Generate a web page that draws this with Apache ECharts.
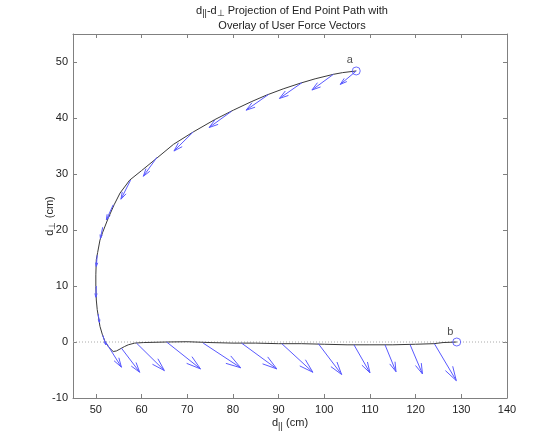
<!DOCTYPE html>
<html><head><meta charset="utf-8">
<script src="https://cdn.jsdelivr.net/npm/echarts@6/dist/echarts.min.js"></script>
<style>html,body{margin:0;padding:0;background:#fff}#c{width:560px;height:448px}</style>
</head><body><div id="c"></div>
<script>
// End point path (d_parallel, d_perp) in cm
const pathX = [107,104,102,98,94.7,91,87.4,84,80.1,76,71.3,67,63.3,60,57.4,55.3,54,52.7,51.5,50.9,50.4,50.1,50,50,50.1,50.3,50.9,51.4,52.0,52.8,53.8,54.5,55.3,56.3,57.1,58.5,60.4,65.5,70,75,80,85,90,95,100,105,110,115,120,124,126,129];
const pathY = [48.4,48.1,47.8,47.0,46.2,45.2,44.1,42.9,41.4,39.7,37.5,35.3,32.8,30.6,28.9,26.6,24.5,22.1,19.6,18.2,16,14.7,12,9.9,7.5,5.8,2.8,1.4,0.1,-0.9,-1.7,-1.6,-1.25,-0.8,-0.5,-0.2,-0.1,0,0.05,-0.1,-0.2,-0.2,-0.3,-0.3,-0.4,-0.5,-0.5,-0.5,-0.4,-0.3,-0.1,0];
// Force vectors: start and end points
const vecX0 = [107,102,95.1,87.8,79.7,71.3,63.4,57.6,53.8,51.5,50.3,50.1,50.5,51.5, 52.3,55.6,58.9,65.5,73.5,81.9,90.7,98.7,106.5,113.3,118.8,124.1];
const vecY0 = [48.4,47.8,46.3,44.2,41.2,37.5,33.0,28.9,24.5,20.5,15.5,10.0,5.0,1.2, -0.2,-1.1,-0.2,0,-0.2,-0.2,-0.3,-0.3,-0.5,-0.5,-0.5,-0.3];
const vecX1 = [103.5,97.3,90.2,82.9,74.8,67.1,60.4,55.5,52.3,51.0,50.1,50.0,50.8,52.2, 55.6,59.6,65.0,72.9,81.7,89.6,97.5,103.8,110.0,115.7,121.5,128.9];
const vecY1 = [46.0,45.0,43.5,41.4,38.3,34.1,29.6,25.5,21.8,18.5,13.5,8.0,3.5,-0.5, -4.5,-5.4,-5.1,-4.8,-4.6,-4.8,-5.4,-5.8,-5.5,-5.3,-5.7,-6.9];
// End markers
const endNames = ['a','b'];
const endX = [107,129];
const endY = [48.4,0];
const xTicks = [50,60,70,80,90,100,110,120,130,140];
const yTicks = [-10,0,10,20,30,40,50];

const pathData = pathX.map((x,i)=>[x,pathY[i]]);
const vecData = vecX0.map((x,i)=>[x,vecY0[i],vecX1[i],vecY1[i]]);
const endData = endX.map((x,i)=>({value:[x,endY[i]], name:endNames[i]}));

const FONT = 'Liberation Sans';
const axCol = '#808080';
const txtCol = '#222';
function mkX(pos, show){
  return {type:'value', position:pos, min:45, max:140,
    axisLine:{show:true,onZero:false,lineStyle:{color:axCol,width:1}},
    axisTick:{show:true,inside:true,length:4,customValues:xTicks,lineStyle:{color:axCol}},
    axisLabel:{show:show,customValues:xTicks,color:txtCol,fontSize:11,fontFamily:FONT,margin:6},
    splitLine:{show:false}};
}
function mkY(pos, show){
  return {type:'value', position:pos, min:-10, max:55,
    axisLine:{show:true,onZero:false,lineStyle:{color:axCol,width:1}},
    axisTick:{show:true,inside:true,length:4,customValues:yTicks,lineStyle:{color:axCol}},
    axisLabel:{show:show,customValues:yTicks,color:txtCol,fontSize:11,fontFamily:FONT,margin:5},
    splitLine:{show:false}};
}
const xb = mkX('bottom', true);
xb.name = '{n|d}{s|||} {n|(cm)}';
xb.nameLocation = 'middle'; xb.nameGap = 17; xb.nameMoveOverlap = false;
xb.nameTextStyle = {rich:{n:{fontSize:11,fontFamily:FONT,color:txtCol},s:{fontSize:9,fontFamily:FONT,color:txtCol,padding:[7,0,0,0]}}};
const yl = mkY('left', true);
yl.name = '{n|d}{s|⊥} {n|(cm)}';
yl.nameLocation = 'middle'; yl.nameGap = 16; yl.nameRotate = 90; yl.nameMoveOverlap = false;
yl.nameTextStyle = {rich:{n:{fontSize:11,fontFamily:FONT,color:txtCol},s:{fontSize:9,fontFamily:FONT,color:txtCol,padding:[6,0,0,0]}}};

const ARROW = '#5a5aff';
const chart = echarts.init(document.getElementById('c'), null, {renderer:'canvas'});
chart.setOption({
  animation:false,
  backgroundColor:'#fff',
  title:{
    text:'{n|d}{s|||}{n|-d}{s|⊥}{n| Projection of End Point Path with}\n{n|Overlay of User Force Vectors}',
    left:287, top:-2, textAlign:'center',
    textStyle:{fontWeight:'normal', rich:{
      n:{fontSize:11,fontFamily:FONT,color:txtCol,lineHeight:15,fontWeight:'normal'},
      s:{fontSize:9,fontFamily:FONT,color:txtCol,padding:[7,0,0,0],lineHeight:15,fontWeight:'normal'}
    }}
  },
  grid:{left:73,right:53,top:34,bottom:50,containLabel:false},
  xAxis:[xb, mkX('top', false)],
  yAxis:[yl, mkY('right', false)],
  series:[
    {type:'line', data:[[45,0],[140,0]], xAxisIndex:0, yAxisIndex:0, symbol:'none', silent:true,
     lineStyle:{color:'#aaa',width:1,type:[1,2]}, z:1},
    {type:'line', data:pathData, symbol:'none', smooth:false,
     lineStyle:{color:'#3a3a3a',width:1}, z:3},
    {type:'custom', data:vecData, z:4,
     encode:{x:[0,2], y:[1,3]},
     renderItem:function(params, api){
       const p0 = api.coord([api.value(0), api.value(1)]);
       const p1 = api.coord([api.value(2), api.value(3)]);
       const dx = p1[0]-p0[0], dy = p1[1]-p0[1];
       const a = 0.33, b = 0.3;
       const h1 = [p1[0]-a*(dx + b*dy), p1[1]-a*(dy - b*dx)];
       const h2 = [p1[0]-a*(dx - b*dy), p1[1]-a*(dy + b*dx)];
       const st = {stroke:ARROW, lineWidth:1, fill:null};
       return {type:'group', children:[
         {type:'polyline', shape:{points:[p0,p1]}, style:st},
         {type:'polyline', shape:{points:[h1,p1,h2]}, style:st}
       ]};
     }},
    {type:'scatter', data:endData, symbol:'circle', symbolSize:8, z:5,
     itemStyle:{color:'rgba(0,0,0,0)', borderColor:'#4a4aff', borderWidth:1},
     label:{show:true, formatter:'{b}', color:txtCol, fontSize:11, fontFamily:FONT,
       position:[-2,-6], align:'center', verticalAlign:'middle'}}
  ]
});
</script></body></html>
